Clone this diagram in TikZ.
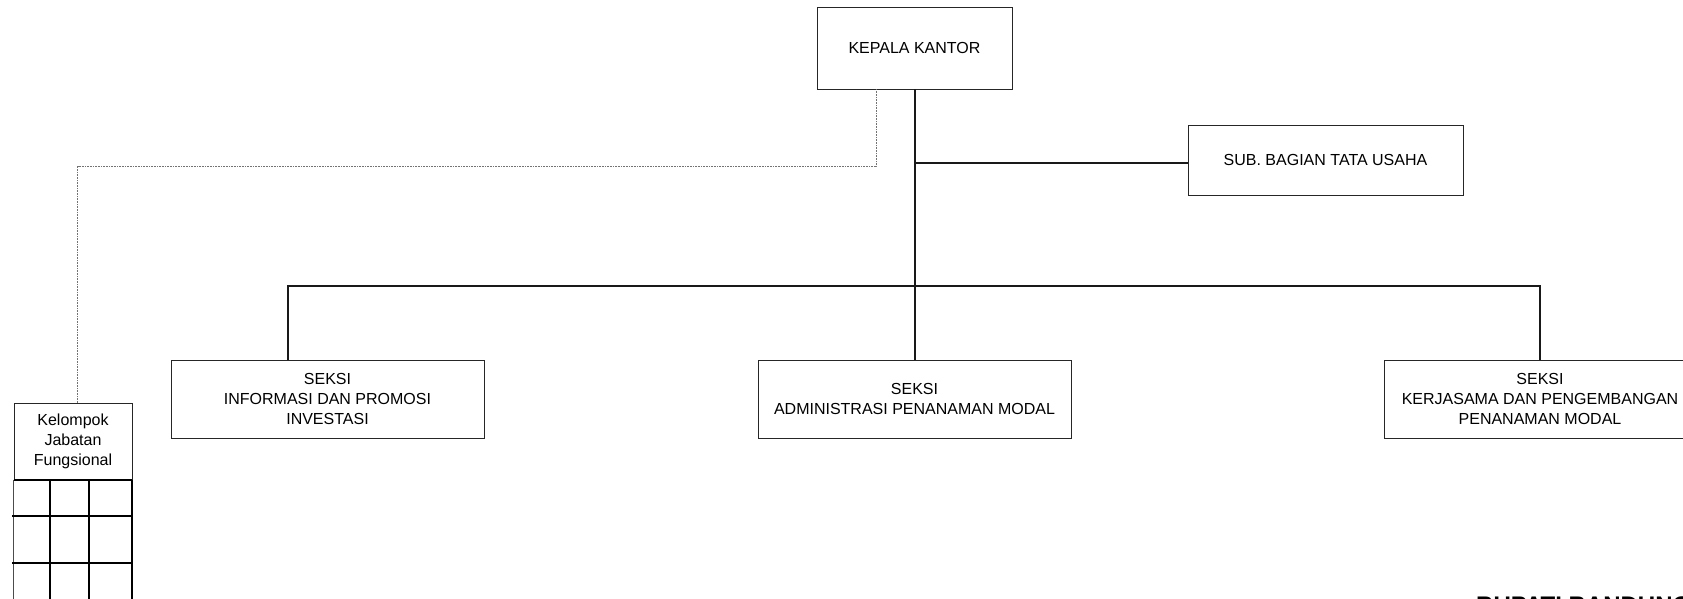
\documentclass[tikz,border=0pt]{standalone}
\usepackage{fontspec}
\setmainfont{Liberation Sans}
\usetikzlibrary{calc}
\begin{document}
\begin{tikzpicture}[x=1pt,y=-1pt,
  unitbox/.style={draw=black!85,line width=0.9pt,align=center,inner sep=0pt,
    font=\fontsize{16}{20}\selectfont},
  link/.style={line width=2pt,black!90},
  staff/.style={line width=0.8pt,black!55,dash pattern=on 0.8pt off 0.8pt},
  gridline/.style={line width=2pt,black}]
\useasboundingbox (0,0) rectangle (1683,598);

% head of office and administration unit
\node[unitbox,minimum width=195pt,minimum height=82pt] (kepala) at (914.5,48) {KEPALA KANTOR};
\node[unitbox,minimum width=275pt,minimum height=70pt] (sub) at (1325.5,160) {SUB. BAGIAN TATA USAHA};

% sections
\node[unitbox,minimum width=313pt,minimum height=78pt] (s1) at (327.5,399)
  {SEKSI\\INFORMASI DAN PROMOSI\\INVESTASI};
\node[unitbox,minimum width=313pt,minimum height=78pt] (s2) at (914.5,399)
  {SEKSI\\ADMINISTRASI PENANAMAN MODAL};
\node[unitbox,minimum width=312pt,minimum height=78pt] (s3) at (1540,399)
  {SEKSI\\KERJASAMA DAN PENGEMBANGAN\\PENANAMAN MODAL};

% functional group with its grid
\node[unitbox,minimum width=118pt,minimum height=77pt] (kjf) at (73,441.5)
  {Kelompok\\Jabatan\\Fungsional};
\draw[draw=black!70,line width=0.9pt] (kjf.south west) -- ++(0,130);
\draw[gridline] (kjf.south east) -- ++(0,130);
\draw[gridline] (kjf.south west) -- (kjf.south east);
\draw[gridline] (12,516) -- (131,516);
\draw[gridline] (12,563) -- (131,563);
\draw[gridline] (50,479) -- (50,610);
\draw[gridline] (89,479) -- (89,610);

% solid lines of command
\coordinate (top) at (915,89);
\coordinate (jSub) at (915,163);
\coordinate (jBus) at (915,285.5);
\coordinate (busL) at (288,285.5);
\coordinate (busR) at (1540,285.5);
\draw[link] (top) -- (top |- s2.north);
\draw[link] (jSub) -- (jSub -| sub.west);
\draw[link] (busL |- s1.north) -- (busL) -- (busR) -- (busR |- s3.north);

% dotted line of coordination
\coordinate (dTop) at (876,89);
\coordinate (dBend) at (876,166);
\coordinate (dLeft) at (77.5,166);
\draw[staff] (dTop) -- (dBend) -- (dLeft) -- (dLeft |- kjf.north);

% signature line at the foot
\node[anchor=base west,inner sep=0pt,font=\fontsize{24}{28}\selectfont\bfseries] (bup) at (1476,613) {BUPATI BANDUNG};
\end{tikzpicture}
\end{document}
